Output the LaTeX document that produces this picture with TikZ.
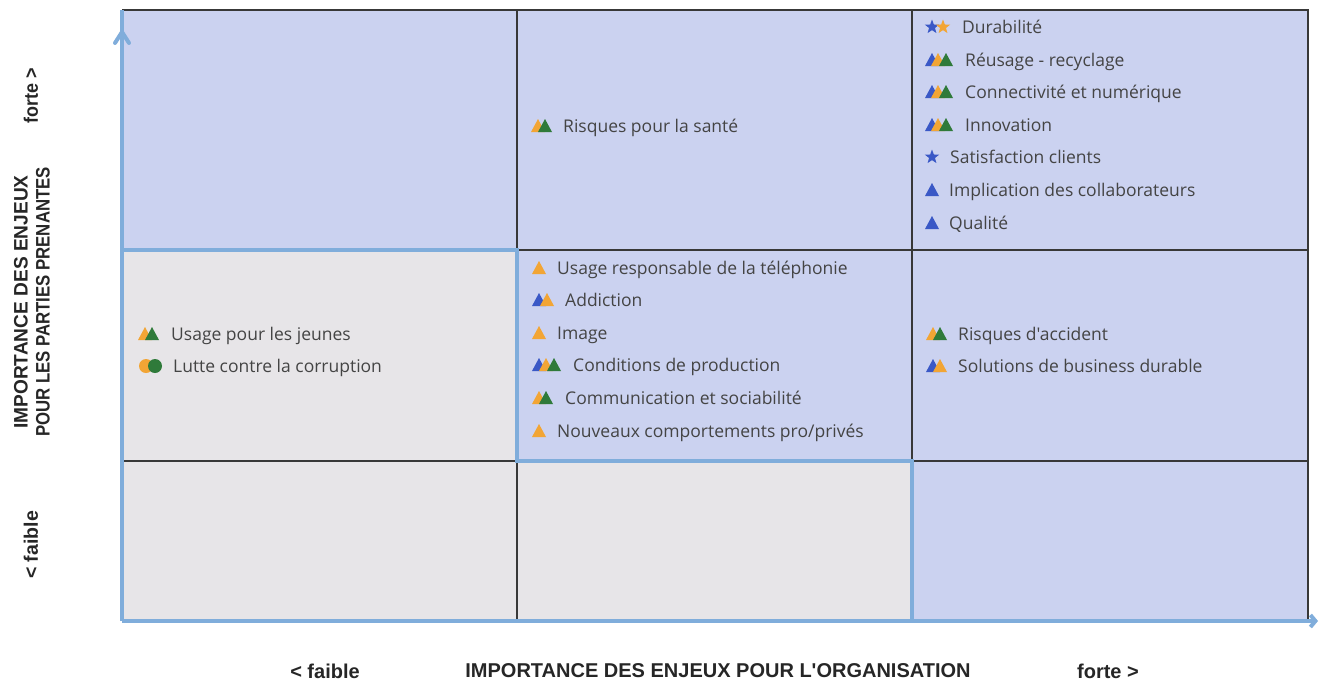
\documentclass[tikz,border=0pt]{standalone}
\usepackage{fontspec}
\newfontfamily\itemfont{Open Sans}
\newfontfamily\axisfont{Liberation Sans}
\usetikzlibrary{arrows.meta,shapes.geometric}
\definecolor{cellblue}{HTML}{CBD2F0}
\definecolor{cellgrey}{HTML}{E7E5E8}
\definecolor{axisblue}{HTML}{80ADDB}
\definecolor{gridline}{HTML}{383838}
\definecolor{txt}{HTML}{444444}
\definecolor{ib}{HTML}{3A58C6}
\definecolor{io}{HTML}{F2A535}
\definecolor{ig}{HTML}{2F7A3A}
\tikzset{
  item/.style={anchor=base west,inner sep=0pt,text=txt,font=\itemfont\fontsize{17.5}{21}\selectfont},
  axislabel/.style={inner sep=0pt,text=black!85,font=\axisfont\bfseries\fontsize{20}{24}\selectfont},
  vlabel/.style={inner sep=0pt,text=black!85,align=center,rotate=90,font=\axisfont\bfseries\fontsize{19.5}{22}\selectfont},
  gline/.style={draw=gridline,line width=1.4pt},
  bline/.style={draw=axisblue,line width=4pt},
  pics/tri/.style={code={\fill[#1] (-7,6) -- (7,6) -- (0,-7) -- cycle;}},
  pics/stard/.style={code={\node[star,star points=5,star point ratio=2.4,fill=#1,inner sep=0pt,minimum size=15pt] {};}},
  pics/dot/.style={code={\fill[#1] (0,0) circle (7);}},
}
\begin{document}
\begin{tikzpicture}[x=1pt,y=-1pt]
\useasboundingbox (0,0) rectangle (1322,681);
% cells
\fill[cellblue] (122,10) rectangle (1308,621);
\fill[cellgrey] (122,250) rectangle (517,621);
\fill[cellgrey] (517,461) rectangle (912,621);
% black grid lines
\draw[gline] (122,10) -- (1308,10) -- (1308,621);
\draw[gline] (517,10) -- (517,250);
\draw[gline] (912,10) -- (912,461);
\draw[gline] (517,250) -- (1308,250);
\draw[gline] (122,461) -- (517,461);
\draw[gline] (912,461) -- (1308,461);
\draw[gline] (517,461) -- (517,621);
% blue boundary
\draw[bline,line cap=rect] (122,250) -- (517,250) -- (517,461) -- (912,461) -- (912,621);
% axes
\coordinate (O) at (122,621);
\coordinate (Xend) at (1318,621);
\coordinate (Ytop) at (122,10);
\coordinate (Ytip) at (122,32);
\draw[bline] (O) -- (Ytop);
\draw[bline,-{Straight Barb[length=5pt,width=12pt]}] (O) -- (Xend);
\draw[draw=axisblue,line width=4pt,line cap=round,line join=round] (115,43) -- (Ytip) -- (129,43);
% axis labels
\node[axislabel] (xl) at (718,671) {IMPORTANCE DES ENJEUX POUR L'ORGANISATION};
\node[axislabel] (xlow) at (325,671) {< faible};
\node[axislabel] (xhigh) at (1108,671) {forte >};
\node[vlabel] (yl) at (32,302) {\scalebox{0.98}[1]{IMPORTANCE DES ENJEUX}\\\scalebox{0.86}[1]{POUR LES PARTIES PRENANTES}};
\node[vlabel] (ylow) at (31,545) {< faible};
\node[vlabel] (yhigh) at (31,96) {\scalebox{0.92}[1]{forte >}};
% top-right cell
\pic at (932,27) {stard=ib}; \pic at (943,27) {stard=io};
\node[item] (t1) at (962,33) {Durabilité};
\pic at (932,60) {tri=ib}; \pic at (938,60) {tri=io}; \pic at (946,60) {tri=ig};
\node[item] (t2) at (965,66) {Réusage - recyclage};
\pic at (932,92) {tri=ib}; \pic at (938,92) {tri=io}; \pic at (946,92) {tri=ig};
\node[item] (t3) at (965,98) {Connectivité et numérique};
\pic at (932,125) {tri=ib}; \pic at (938,125) {tri=io}; \pic at (946,125) {tri=ig};
\node[item] (t4) at (965,131) {Innovation};
\pic at (932,157) {stard=ib};
\node[item] (t5) at (950,163) {Satisfaction clients};
\pic at (932,190) {tri=ib};
\node[item] (t6) at (949,196) {Implication des collaborateurs};
\pic at (932,223) {tri=ib};
\node[item] (t7) at (949,229) {Qualité};
% top-middle cell
\pic at (538,126) {tri=io}; \pic at (545,126) {tri=ig};
\node[item] (m0) at (563,132) {Risques pour la santé};
% middle cell
\pic at (539,268) {tri=io};
\node[item] (m1) at (557,274) {Usage responsable de la téléphonie};
\pic at (539,300) {tri=ib}; \pic at (547,300) {tri=io};
\node[item] (m2) at (565,306) {Addiction};
\pic at (539,333) {tri=io};
\node[item] (m3) at (557,339) {Image};
\pic at (539,365) {tri=ib}; \pic at (546,365) {tri=io}; \pic at (554,365) {tri=ig};
\node[item] (m4) at (573,371) {Conditions de production};
\pic at (539,398) {tri=io}; \pic at (546,398) {tri=ig};
\node[item] (m5) at (565,404) {Communication et sociabilité};
\pic at (539,431) {tri=io};
\node[item] (m6) at (557,437) {Nouveaux comportements pro/privés};
% left-middle cell
\pic at (145,334) {tri=io}; \pic at (152,334) {tri=ig};
\node[item] (l1) at (171,340) {Usage pour les jeunes};
\pic at (146,366) {dot=io}; \pic at (155,366) {dot=ig};
\node[item] (l2) at (173,372) {Lutte contre la corruption};
% right-middle cell
\pic at (933,334) {tri=io}; \pic at (940,334) {tri=ig};
\node[item] (r1) at (958,340) {Risques d'accident};
\pic at (933,366) {tri=ib}; \pic at (940,366) {tri=io};
\node[item] (r2) at (958,372) {Solutions de business durable};
\end{tikzpicture}
\end{document}
